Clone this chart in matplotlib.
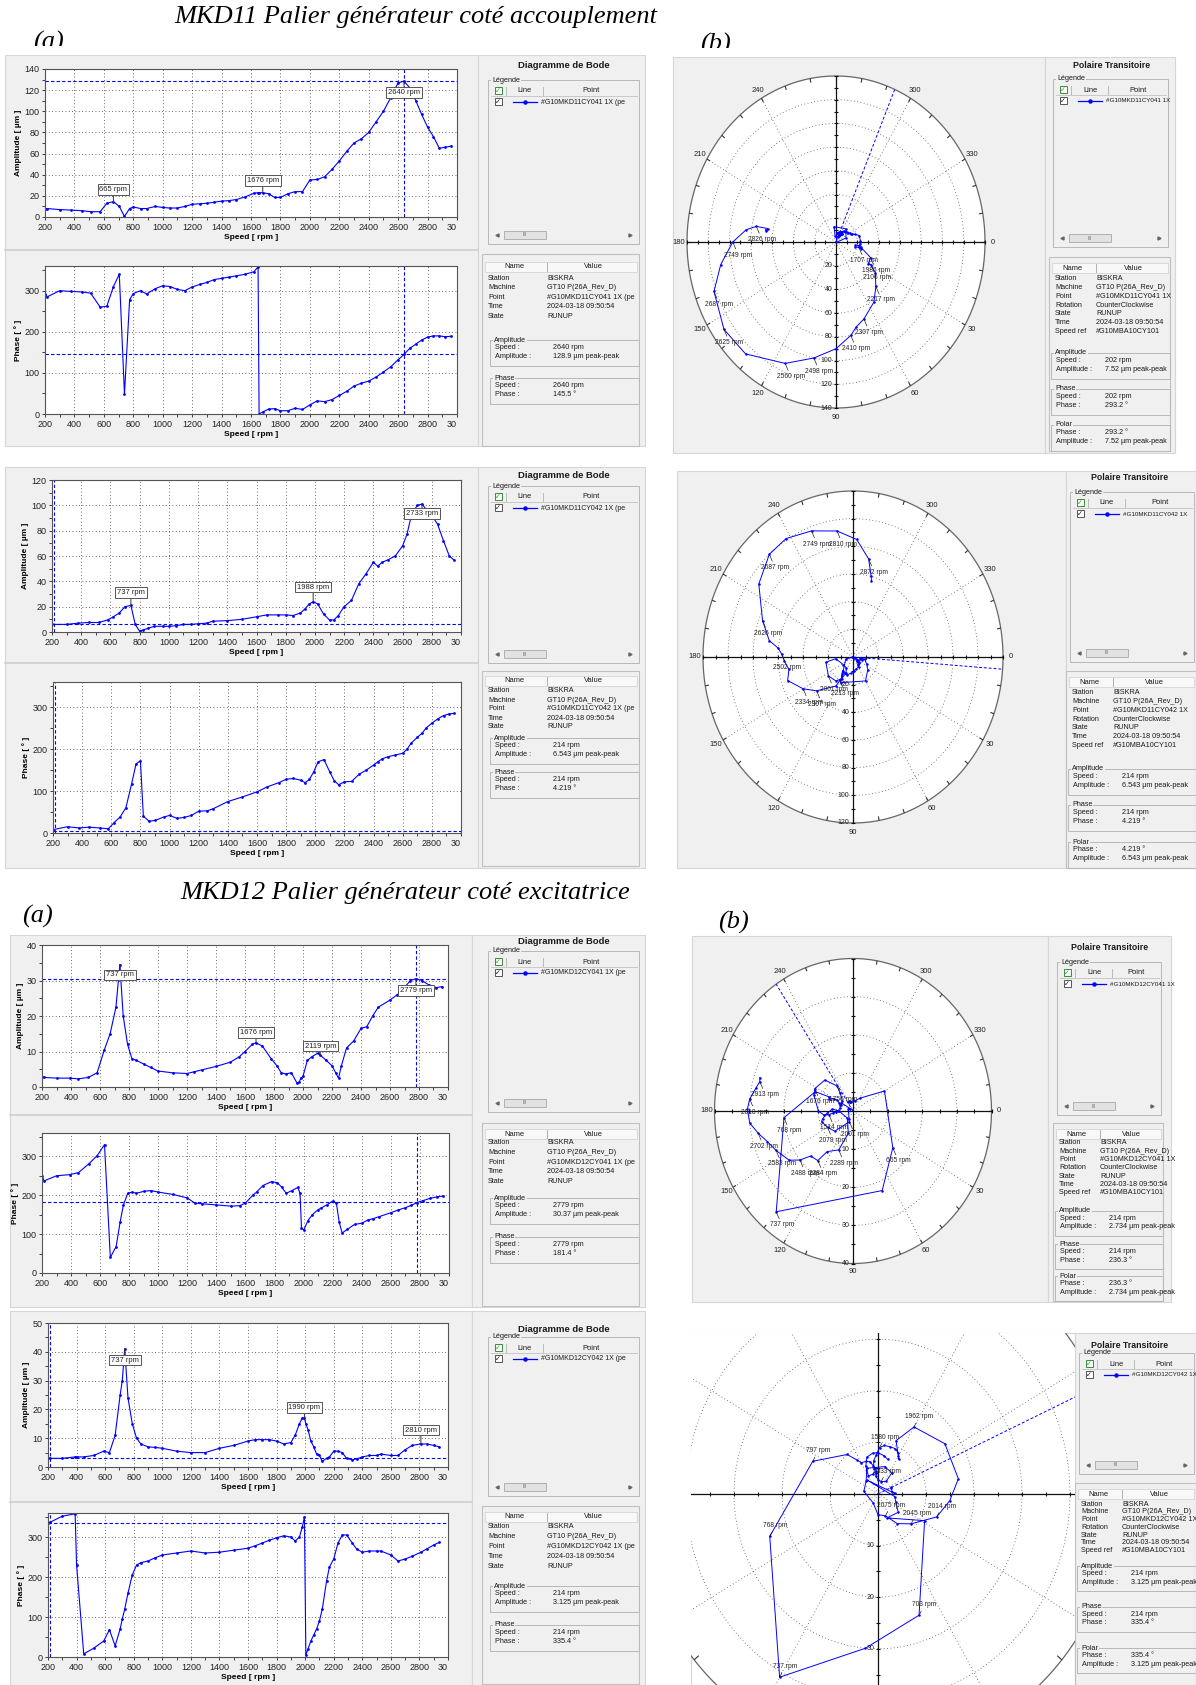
import numpy as np
import matplotlib
matplotlib.use('Agg')
import matplotlib.pyplot as plt
from matplotlib.patches import Rectangle
from matplotlib.collections import LineCollection

W, H = 1196, 1685

# ---------------- data ----------------
# MKD11 (coté accouplement) voie CY041
sp_11a = np.array([200, 215, 300, 380, 450, 510, 575, 620, 665, 705,
                   740, 775, 800, 850, 890, 950, 1000, 1050, 1100, 1150,
                   1200, 1250, 1300, 1350, 1400, 1450, 1500, 1560, 1620, 1648,
                   1655, 1680, 1720, 1760, 1800, 1850, 1900, 1950, 2000, 2050,
                   2100, 2150, 2200, 2250, 2300, 2350, 2400, 2450, 2500, 2550,
                   2600, 2640, 2680, 2720, 2760, 2800, 2840, 2880, 2920, 2960])
amp_11a = np.array([7.5, 8, 7, 6.5, 6, 5, 5, 13, 14.5, 10,
                    0.5, 8, 9.5, 8, 8, 10, 9, 8.5, 8.5, 10,
                    12, 12.5, 13, 14, 15, 15.5, 16.5, 19, 22.5, 23,
                    23, 23, 22, 18.5, 18.5, 22, 24, 24, 35, 35.5,
                    38, 45, 53, 62, 70, 74, 80, 90, 100, 113,
                    127, 128.5, 122, 110, 97, 85, 76, 65, 66, 67])
ph_11a = np.array([293, 285, 300, 298, 297, 294, 260, 262, 310, 340,
                   48, 278, 293, 300, 292, 305, 312, 310, 303, 300,
                   309, 315, 320, 327, 330, 333, 336, 340, 346, 358,
                   0, 5, 12, 13, 8, 8, 14, 11, 22, 32,
                   30, 35, 45, 55, 68, 75, 80, 90, 102, 115,
                   132, 145, 160, 170, 180, 187, 190, 190, 188, 189])

# MKD11 voie CY042
sp_11b = np.array([200, 300, 380, 450, 520, 580, 620, 660, 700, 740,
                   770, 800, 820, 860, 900, 960, 1000, 1050, 1100, 1150,
                   1200, 1260, 1300, 1400, 1500, 1600, 1670, 1750, 1800, 1850,
                   1900, 1930, 1960, 1988, 2020, 2060, 2100, 2130, 2160, 2200,
                   2250, 2300, 2350, 2400, 2430, 2460, 2500, 2550, 2600, 2630,
                   2660, 2700, 2733, 2760, 2800, 2840, 2880, 2920, 2950])
amp_11b = np.array([6, 6, 7, 7.5, 7.5, 9.5, 12, 15, 20, 21,
                    6, 0.5, 1.5, 3, 4.5, 4.5, 4.5, 5, 6, 6,
                    6.5, 7, 8.5, 9, 10, 12, 13.5, 13.5, 13.5, 13,
                    15, 18, 22, 24, 22, 14, 9.5, 9.5, 13, 20,
                    25, 38, 46, 55, 52, 55, 57, 60, 68, 77,
                    92, 100, 101, 97, 92, 85, 72, 60, 57])
ph_11b = np.array([8, 15, 12, 14, 12, 10, 25, 38, 60, 118,
                   165, 172, 40, 28, 30, 38, 42, 35, 37, 42,
                   52, 53, 58, 75, 86, 98, 110, 120, 128, 130,
                   126, 120, 128, 145, 170, 175, 145, 125, 115, 122,
                   123, 140, 150, 162, 170, 177, 182, 186, 190, 200,
                   215, 228, 238, 250, 262, 272, 280, 284, 285])

# MKD12 (coté excitatrice) voie CY041
sp_12a = np.array([200, 215, 300, 390, 450, 520, 580, 630, 670, 710,
                   737, 760, 790, 820, 850, 900, 950, 1000, 1100, 1200,
                   1250, 1300, 1400, 1500, 1560, 1600, 1650, 1676, 1720, 1780,
                   1820, 1850, 1880, 1920, 1960, 1975, 1985, 2000, 2030, 2060,
                   2100, 2119, 2160, 2200, 2225, 2245, 2265, 2300, 2350, 2400,
                   2440, 2480, 2520, 2600, 2650, 2700, 2740, 2779, 2820, 2870,
                   2920, 2960])
amp_12a = np.array([2.8, 2.7, 2.5, 2.5, 2.3, 2.7, 4, 10.5, 15, 22.5,
                    34.5, 20, 12, 8, 7.5, 6.5, 5.5, 4.5, 4, 3.8,
                    4.3, 4.8, 5.8, 7, 8.5, 10, 12, 12.5, 11.5, 8,
                    6, 4, 3.7, 4, 1, 1.5, 2.5, 3, 7.5, 8.5,
                    9.5, 9, 7.5, 6, 4, 2.5, 6, 11, 13, 16.5,
                    17, 20, 22.5, 24.5, 26, 28, 30, 30.5, 30, 28.7,
                    28, 28.3])
ph_12a = np.array([250, 237, 250, 253, 258, 280, 302, 330, 40, 68,
                   130, 175, 205, 208, 205, 210, 212, 208, 202, 193,
                   180, 178, 175, 172, 173, 180, 200, 208, 225, 235,
                   232, 220, 205, 212, 220, 205, 117, 110, 135, 150,
                   163, 167, 175, 185, 180, 130, 103, 112, 125, 128,
                   136, 140, 145, 155, 162, 168, 174, 181, 186, 192,
                   196, 198])

# MKD12 voie CY042
sp_12b = np.array([200, 215, 300, 390, 400, 450, 520, 590, 630, 670,
                   705, 720, 737, 760, 790, 820, 850, 900, 950, 1000,
                   1100, 1200, 1300, 1400, 1500, 1600, 1650, 1700, 1750, 1800,
                   1850, 1900, 1930, 1960, 1980, 1995, 2005, 2020, 2040, 2060,
                   2080, 2100, 2120, 2150, 2170, 2200, 2230, 2260, 2290, 2330,
                   2360, 2400, 2450, 2500, 2530, 2600, 2650, 2700, 2750, 2810,
                   2850, 2900, 2940])
amp_12b = np.array([3, 3, 3, 3.5, 3.5, 3.5, 4, 5.5, 5, 11,
                    25, 30, 41, 24, 15, 10, 8, 7, 6.8, 6.5,
                    5.5, 5, 5, 6.5, 7.5, 9, 9.5, 9.5, 9.5, 9,
                    8, 8.5, 11, 15, 17, 17, 15, 13, 9, 7,
                    4.5, 4, 2, 3, 3.5, 5.5, 5.5, 5, 3, 2.5,
                    2.8, 3.5, 4, 4, 4.5, 4, 4, 6, 7.5, 8,
                    8, 7.5, 7])
ph_12b = np.array([335, 337, 352, 358, 230, 8, 22, 40, 68, 28,
                   70, 95, 120, 160, 205, 230, 236, 240, 248, 255,
                   260, 265, 260, 262, 267, 272, 278, 285, 292, 298,
                   303, 300, 290, 300, 325, 350, 5, 20, 40, 55,
                   70, 90, 120, 190, 225, 245, 285, 305, 305, 285,
                   270, 262, 265, 265, 265, 255, 240, 245, 252, 262,
                   270, 280, 287])

# cursor readings (speed, amplitude, phase) shown in the info panels
bode_cursor = [(2640, 128.9, 145.5), (214, 6.543, 4.219), (2779, 30.37, 181.4), (214, 3.125, 335.4)]
polar_cursor = [(202, 7.52, 293.2), (214, 6.543, 4.219), (214, 2.734, 236.3), (214, 3.125, 335.4)]
point_names = ['#G10MKD11CY041 1X', '#G10MKD11CY042 1X', '#G10MKD12CY041 1X', '#G10MKD12CY042 1X']

# rpm labels
bode_peaks_amp = [[665, 1676, 2640], [737, 1988, 2733], [737, 1676, 2119, 2779], [737, 1990, 2810]]
polar_marks = [[1707, 1986, 2106, 2217, 2307, 2410, 2498, 2560, 2625, 2687, 2749, 2826],
               [2001, 2213, 2307, 2334, 2502, 2626, 2687, 2749, 2810, 2872],
               [665, 737, 768, 1514, 1676, 1756, 2001, 2079, 2289, 2384, 2488, 2583, 2702, 2810, 2913],
               [703, 737, 768, 797, 1580, 1962, 2014, 2045, 2075, 2333]]

# ---------------- drawing ----------------
plt.rcParams['font.family'] = ['Liberation Sans', 'DejaVu Sans']
BLUE = '#0000ff'
PANEL = '#f0f0f0'
EDGE = '#c4c4c4'
TXT = '#1a1a1a'

fig = plt.figure(figsize=(W / 100, H / 100), dpi=100)
fig.patch.set_facecolor('white')


def rect(x0, y0, x1, y1):
    return [x0 / W, 1 - y1 / H, (x1 - x0) / W, (y1 - y0) / H]


bg = fig.add_axes([0, 0, 1, 1], zorder=0)
bg.set_xlim(0, W)
bg.set_ylim(H, 0)
bg.axis('off')


def box(x0, y0, x1, y1, fc='none', ec=EDGE, lw=0.8, z=1):
    bg.add_patch(Rectangle((x0, y0), x1 - x0, y1 - y0, fc=fc, ec=ec, lw=lw, zorder=z))


def txt(x, y, s, size=5.2, **kw):
    kw.setdefault('va', 'center')
    kw.setdefault('ha', 'left')
    kw.setdefault('color', TXT)
    kw.setdefault('zorder', 4)
    bg.text(x, y, s, fontsize=size, **kw)


def group(x0, y0, x1, y1, label):
    box(x0, y0, x1, y1, ec='#b8b8b8', lw=0.7, z=2)
    txt(x0 + 4, y0, label, 5.2, bbox=dict(fc=PANEL, ec='none', pad=0.4))


def checkbox(cx, cy, edge, check):
    box(cx - 3.5, cy - 3.5, cx + 3.5, cy + 3.5, fc='white', ec=edge, lw=0.7, z=3)
    txt(cx, cy, '✓', 5, ha='center', color=check, family='DejaVu Sans', fontweight='bold')


def legend_group(x0, x1, y0, y1, point, psize=5.0):
    group(x0, y0, x1, y1, 'Légende')
    hy = y0 + 11
    checkbox(x0 + 10, hy, '#3a8a3a', '#22aa22')
    bg.plot([x0 + 18, x0 + 18], [hy - 4, hy + 4], color='#bbbbbb', lw=0.7, zorder=3)
    bg.plot([x0 + 55, x0 + 55], [hy - 4, hy + 4], color='#bbbbbb', lw=0.7, zorder=3)
    txt(x0 + 37, hy, 'Line', 5.4, ha='center')
    txt((x0 + 55 + x1) / 2, hy, 'Point', 5.4, ha='center')
    bg.plot([x0 + 3, x1 - 2], [hy + 5, hy + 5], color='#c8c8c8', lw=0.7, zorder=3)
    ry = hy + 11
    checkbox(x0 + 10, ry, '#555555', '#111111')
    bg.plot([x0 + 25, x0 + 49], [ry, ry], color=BLUE, lw=0.9, zorder=3)
    bg.plot([x0 + 37], [ry], 'o', color=BLUE, ms=2.2, zorder=3)
    txt(x0 + 53, ry, point, psize)
    sy = y1 - 9
    bg.plot([x0 + 9], [sy], marker='<', ms=2.2, color='#666666', zorder=3)
    box(x0 + 16, sy - 4, x0 + 58, sy + 4, fc='#e2e2e2', ec='#a8a8a8', lw=0.6, z=3)
    txt(x0 + 37, sy, 'III', 3.5, ha='center', color='#666666')
    bg.plot([x1 - 9], [sy], marker='>', ms=2.2, color='#666666', zorder=3)


def info_block(x0, x1, y0, y1, div_x, head_y, row1_y, row_h, rows):
    box(x0, y0, x1, y1, ec='#c0c0c0', lw=0.8, z=2)
    box(x0 + 3, head_y - 5, x1 - 2, head_y + 5, fc='#f8f8f8', ec='#d4d4d4', lw=0.6, z=2)
    bg.plot([div_x, div_x], [head_y - 4, head_y + 4], color='#b0b0b0', lw=0.7, zorder=3)
    txt((x0 + div_x) / 2, head_y, 'Name', 5.4, ha='center')
    txt((div_x + x1) / 2, head_y, 'Value', 5.4, ha='center')
    for k, (n, v) in enumerate(rows):
        yy = row1_y + k * row_h
        txt(x0 + 6, yy, n)
        txt(div_x, yy, v)


def value_group(x0, x1, y0, label, rows, val_x, row_h=9):
    group(x0, y0, x1, y0 + 8 + len(rows) * row_h, label)
    for k, (n, v) in enumerate(rows):
        yy = y0 + 7.5 + k * row_h
        txt(x0 + 5, yy, n)
        txt(val_x, yy, v)


def bode_axes(box_px, sp, val, ymax, ystep, ylabel, cur_x, cur_y, peaks=None, offs=None):
    x0, y0, x1, y1 = box_px
    ax = fig.add_axes(rect(x0, y0, x1, y1), zorder=2)
    ax.set_facecolor('white')
    ax.set_xlim(200, 3000)
    ax.set_ylim(0, ymax)
    xt = np.arange(200, 3001, 200)
    ax.set_xticks(xt)
    lab = ax.set_xticklabels([str(v) for v in xt[:-1]] + ['30'])
    lab[-1].set_horizontalalignment('right')
    ax.set_xticks(np.arange(200, 3001, 100), minor=True)
    ax.set_yticks(np.arange(0, ymax + 0.1, ystep))
    ax.set_yticks(np.arange(0, ymax + 0.1, ystep / 2), minor=True)
    ax.set_axisbelow(True)
    ax.grid(True, which='major', color='#3a3a3a', ls=(0, (1, 3)), lw=0.6)
    ax.tick_params(which='both', direction='out', length=2.5, width=0.6,
                   labelsize=6.5, pad=1.5, colors='#222222')
    for s in ax.spines.values():
        s.set_color('#555555')
        s.set_linewidth(0.8)
    ax.set_xlabel('Speed [ rpm ]', fontsize=6, fontweight='bold', labelpad=1.5)
    ax.set_ylabel(ylabel, fontsize=6, fontweight='bold', labelpad=2)
    ax.axvline(cur_x, color=BLUE, ls=(0, (3, 2)), lw=0.8)
    ax.axhline(cur_y, color=BLUE, ls=(0, (3, 2)), lw=0.8)
    ax.plot(sp, val, '-o', color=BLUE, lw=0.8, ms=2.0, mew=0)
    if peaks:
        for s, dy in zip(peaks, offs):
            i = np.argmin(np.abs(sp - s))
            ax.annotate(f'{s} rpm', (sp[i], val[i]), xytext=(0, dy), textcoords='offset points',
                        ha='center', va='center', fontsize=5.5, color='#222222',
                        bbox=dict(boxstyle='square,pad=0.25', fc='white', ec='#555555', lw=0.7),
                        arrowprops=dict(arrowstyle='-', lw=0.7, color='#333333', shrinkA=0, shrinkB=0))
    return ax


def polar_axes(panel, center, radii, rmax, rstep, sp, amp, ph, cursor, marks, lab_dy=-7):
    x0, y0, x1, y1 = panel
    cx, cy = center
    sx, sy = rmax / radii[0], rmax / radii[1]
    ax = fig.add_axes(rect(x0, y0, x1, y1), zorder=2)
    xl = ((x0 - cx) * sx, (x1 - cx) * sx)
    yl = ((cy - y1) * sy, (cy - y0) * sy)
    ax.set_xlim(*xl)
    ax.set_ylim(*yl)
    ax.axis('off')

    def inside(x, y, mx, my):
        return xl[0] + mx < x < xl[1] - mx and yl[0] + my < y < yl[1] - my

    t = np.linspace(0, 2 * np.pi, 400)
    ax.fill(rmax * np.cos(t), rmax * np.sin(t), color='white', lw=0, zorder=0)
    for r in np.arange(rstep, rmax - 0.1, rstep):
        ax.plot(r * np.cos(t), r * np.sin(t), ls=(0, (1, 3)), color='#555555', lw=0.6, zorder=1)
    for d in range(0, 360, 30):
        a = np.deg2rad(d)
        ax.plot([0, rmax * np.cos(a)], [0, -rmax * np.sin(a)], ls=(0, (1, 3)),
                color='#555555', lw=0.6, zorder=1)
    ax.plot(rmax * np.cos(t), rmax * np.sin(t), color='#666666', lw=0.9, zorder=2)
    a10 = np.deg2rad(np.arange(0, 360, 10))
    segs = [[(rmax * np.cos(a), rmax * np.sin(a)), (0.975 * rmax * np.cos(a), 0.975 * rmax * np.sin(a))]
            for a in a10]
    ax.add_collection(LineCollection(segs, colors='#333333', lw=0.8, zorder=2))
    ax.plot([-rmax, rmax], [0, 0], color='#111111', lw=0.9, zorder=2)
    ax.plot([0, 0], [-rmax, rmax], color='#111111', lw=0.9, zorder=2)
    tk = np.arange(-rmax, rmax + 0.01, rstep / 2)
    tk = tk[tk != 0]
    ax.plot(tk, np.zeros_like(tk), ls='none', marker='|', ms=3.5, mew=0.8, color='#111111', zorder=2)
    ax.plot(np.zeros_like(tk), tk, ls='none', marker='_', ms=3.5, mew=0.8, color='#111111', zorder=2)
    for d in [0, 30, 60, 90, 120, 150, 180, 210, 240, 300, 330]:
        a = np.deg2rad(d)
        lx, ly = 1.055 * rmax * np.cos(a), -1.055 * rmax * np.sin(a)
        if inside(lx, ly, 4 * sx, 4 * sy):
            ax.text(lx, ly, str(d), fontsize=5.5, ha='center', va='center', color='#222222')
    for r in np.arange(rstep, rmax + 0.01, rstep):
        if inside(0, -r, 0, 5 * sy):
            ax.annotate(f'{r:g}', (0, -r), xytext=(-2.5, 0), textcoords='offset points',
                        ha='right', va='center', fontsize=5, color='#222222')
    th = np.deg2rad(ph)
    px, py = amp * np.cos(th), -amp * np.sin(th)
    ca = np.deg2rad(cursor)
    ax.plot([0, rmax * np.cos(ca)], [0, -rmax * np.sin(ca)], ls=(0, (3, 2)), color=BLUE, lw=0.7, zorder=3)
    ax.plot(px, py, '-o', color=BLUE, lw=0.7, ms=1.8, mew=0, zorder=4)
    for s in marks:
        i = np.argmin(np.abs(sp - s))
        ax.annotate(f'{s} rpm', (px[i], py[i]), xytext=(4, lab_dy), textcoords='offset points',
                    fontsize=4.8, ha='center', va='top' if lab_dy < 0 else 'bottom',
                    color='#222222', zorder=5,
                    arrowprops=dict(arrowstyle='-', lw=0.5, color='#222222', shrinkA=0, shrinkB=0))
    return ax


# ---- section titles
serif = dict(family='Liberation Serif', style='italic', color='black', zorder=6)
txt(416, 17, 'MKD11 Palier générateur coté accouplement', 19, ha='center', **serif)
txt(405, 893, 'MKD12 Palier générateur coté excitatrice', 19, ha='center', **serif)
txt(33, 42, '(a)', 19, **serif)
txt(700, 44, '(b)', 19, **serif)
txt(22, 916, '(a)', 19, **serif)
txt(718, 922, '(b)', 19, **serif)
box(0, 46, 660, 55, fc='white', ec='none', z=7)
box(660, 48, 1196, 57, fc='white', ec='none', z=7)

# ---- Bode panels (left column)
bode_frames = [(5, 55, 478, 446, 250), (5, 467, 478, 868, 663),
               (10, 935, 472, 1307, 1115), (10, 1311, 472, 1685, 1502)]
for (x0, y0, x1, y1, ysep) in bode_frames:
    box(x0, y0, x1, y1, fc=PANEL, ec='#d6d6d6', z=0)
    bg.plot([x0, x1], [ysep, ysep], color='#cfcfcf', lw=1.2, zorder=1)
    box(x1, y0, 645, y1, fc=PANEL, ec='#d6d6d6', z=0)

bode_axes((45, 69, 457, 217), sp_11a, amp_11a, 140, 20, 'Amplitude [ µm ]', 2640, 128.9,
          bode_peaks_amp[0], [9, 9, -8])
bode_axes((45, 266, 457, 414), sp_11a, ph_11a, 360, 100, 'Phase [ ° ]', 2640, 145.5)
bode_axes((52, 480, 461, 632), sp_11b, amp_11b, 120, 20, 'Amplitude [ µm ]', 214, 6.543,
          bode_peaks_amp[1], [9, 10.5, -7])
bode_axes((53, 682, 461, 833), sp_11b, ph_11b, 360, 100, 'Phase [ ° ]', 214, 4.219)
bode_axes((42, 945, 448, 1087), sp_12a, amp_12a, 40, 10, 'Amplitude [ µm ]', 2779, 30.37,
          bode_peaks_amp[2], [-7.5, 7, 6.5, -8.5])
bode_axes((42, 1133, 449, 1273), sp_12a, ph_12a, 360, 100, 'Phase [ ° ]', 2779, 181.4)
bode_axes((48, 1323, 448, 1467), sp_12b, amp_12b, 50, 10, 'Amplitude [ µm ]', 214, 3.125,
          bode_peaks_amp[3], [-8, 7.5, 10])
bode_axes((48, 1513, 448, 1657), sp_12b, ph_12b, 360, 100, 'Phase [ ° ]', 214, 335.4)

# Bode side panels: title y, legend box, info box, header y, first row y, row step, groups
bode_side = [(65, 80, 244, 254, 446, 267, 278, 9.6, 340, 378),
             (476, 486, 663, 671, 866, 681, 691, 9.0, 738, 772),
             (942, 951, 1112, 1123, 1306, 1134, 1143, 9.6, 1198, 1237),
             (1329, 1337, 1496, 1506, 1684, 1517, 1527, 10.0, 1586, 1625)]
for k, (ty, lt, lb, it, ib, hy, r1, rh, at, pt) in enumerate(bode_side):
    s, a, p = bode_cursor[k]
    txt(564, ty, 'Diagramme de Bode', 6.8, ha='center', fontweight='bold')
    legend_group(488, 639, lt, lb, point_names[k] + ' (pe')
    info_block(482, 639, it, ib, 547, hy, r1, rh,
               [('Station', 'BISKRA'), ('Machine', 'GT10 P(26A_Rev_D)'),
                ('Point', point_names[k] + ' (pe'), ('Time', '2024-03-18 09:50:54'),
                ('State', 'RUNUP')])
    value_group(490, 639, at, 'Amplitude', [('Speed :', f'{s} rpm'),
                                            ('Amplitude :', f'{a:g} µm peak-peak')], 553)
    value_group(490, 639, pt, 'Phase', [('Speed :', f'{s} rpm'), ('Phase :', f'{p:g} °')], 553)

# ---- polar panels (right column)
polar_frames = [(673, 57, 1045, 453, 1175), (677, 471, 1066, 868, 1196),
                (692, 936, 1048, 1302, 1171), (691, 1333, 1075, 1685, 1196)]
for k, (x0, y0, x1, y1, x2) in enumerate(polar_frames):
    box(x0, y0, x1, y1, fc=PANEL if k < 3 else 'white', ec='#d6d6d6', z=0)
    box(x1, y0, x2, y1, fc=PANEL, ec='#d6d6d6', z=0)

polar_axes((673, 57, 1045, 453), (836, 242), (149, 166), 140, 20,
           sp_11a, amp_11a, ph_11a, polar_cursor[0][2], polar_marks[0])
polar_axes((677, 471, 1066, 868), (853, 657), (150, 166), 120, 20,
           sp_11b, amp_11b, ph_11b, polar_cursor[1][2], polar_marks[1])
polar_axes((692, 936, 1048, 1302), (853, 1111), (138.5, 152.5), 40, 10,
           sp_12a, amp_12a, ph_12a, polar_cursor[2][2], polar_marks[2])
polar_axes((691, 1333, 1075, 1685), (878, 1494), (240, 258), 50, 10,
           sp_12b, amp_12b, ph_12b, polar_cursor[3][2], polar_marks[3], lab_dy=5)

# polar side panels: x left/right, title, legend box, info box, header y, first row, row step, groups
polar_side = [(1049, 1170, 1112, 66, 79, 247, 257, 451, 268, 279, 8.7, 353, 389, 425, 9),
              (1066, 1196, 1130, 478, 492, 662, 671, 868, 682, 693, 8.7, 769, 805, 842, 9),
              (1053, 1163, 1110, 948, 962, 1115, 1123, 1301, 1134, 1143, 8.3, 1211, 1244, 1276, 8.5),
              (1075, 1196, 1130, 1346, 1353, 1474, 1483, 1685, 1494, 1504, 7.8, 1566, 1607, 1648, 8.5)]
for k, (xl, xr, tx, ty, lt, lb, it, ib, hy, r1, rh, at, pt, qt, gh) in enumerate(polar_side):
    s, a, p = polar_cursor[k]
    txt(tx, ty, 'Polaire Transitoire', 6.3, ha='center', fontweight='bold')
    legend_group(xl + 4, xr - 2, lt, lb, point_names[k], psize=4.5)
    info_block(xl, xr, it, ib, xl + 47, hy, r1, rh,
               [('Station', 'BISKRA'), ('Machine', 'GT10 P(26A_Rev_D)'),
                ('Point', point_names[k]), ('Rotation', 'CounterClockwise'),
                ('State', 'RUNUP'), ('Time', '2024-03-18 09:50:54'),
                ('Speed ref', '#G10MBA10CY101')])
    vx = xl + 56
    value_group(xl + 2, xr, at, 'Amplitude', [('Speed :', f'{s} rpm'),
                                              ('Amplitude :', f'{a:g} µm peak-peak')], vx, gh)
    value_group(xl + 2, xr, pt, 'Phase', [('Speed :', f'{s} rpm'), ('Phase :', f'{p:g} °')], vx, gh)
    value_group(xl + 2, xr, qt, 'Polar', [('Phase :', f'{p:g} °'),
                                          ('Amplitude :', f'{a:g} µm peak-peak')], vx, gh)

fig.savefig('out.png', dpi=100)
